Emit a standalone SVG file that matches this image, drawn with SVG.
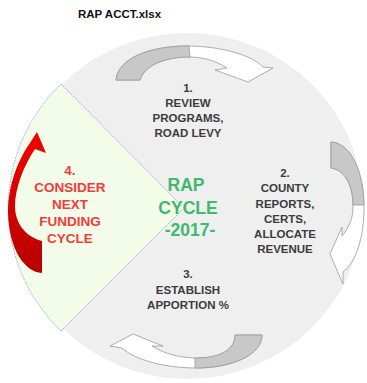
<svg xmlns="http://www.w3.org/2000/svg" width="367" height="383" viewBox="0 0 367 383">
<defs>
<linearGradient id="redg" x1="0" y1="0" x2="0" y2="1">
<stop offset="0" stop-color="#f20000"/>
<stop offset="1" stop-color="#b80000"/>
</linearGradient>
<style>
.lbl{font-family:"Liberation Sans",Arial,sans-serif;font-weight:bold;font-size:11.5px;fill:#3c3c3c;text-anchor:middle}
.red{font-family:"Liberation Sans",Arial,sans-serif;font-weight:bold;font-size:13.5px;fill:#f23b3b;text-anchor:middle}
.grn{font-family:"Liberation Sans",Arial,sans-serif;font-weight:bold;font-size:17.5px;fill:#3dba6c;text-anchor:middle}
.arrw{fill:#ffffff;stroke:#9a9a9a;stroke-width:0.8}
.arrg{fill:#c8c8c8;stroke:#9a9a9a;stroke-width:0.8}
</style>
</defs>
<rect width="367" height="383" fill="#ffffff"/>
<text x="78" y="18" style="font-family:'Liberation Sans',Arial,sans-serif;font-weight:bold;font-size:11.5px;fill:#111">RAP ACCT.xlsx</text>
<g id="cycle">
<ellipse cx="187" cy="206" rx="176" ry="173" fill="#efefef"/>
<path d="M184,208 L61,84 A176,173 0 0 0 61,331 Z" fill="#f3fbe9" stroke="#7fa6d6" stroke-width="0.9" stroke-dasharray="1.5,1.2"/>
</g>
<g id="connectors">
<g id="arrow1">
<path class="arrw" d="M116,80 C118,58 150,46 187,46 C220,46 252,55 263,67 L273,68 L248,82 L215,70 L227,68 C216,61 204,57 189,57 C165,57 145,65 140,80 Z"/>
<path class="arrg" d="M116,80 C118,58 150,46 189,46 L190,57 C165,57 145,65 140,80 Z"/>
</g>
<g id="arrow2">
<path class="arrw" d="M331,142 C352,143 364,175 364,207 C364,238 356,262 343,272 L343,284 L330,254 L342,227 L342,236 C349,228 353,218 353,207 C353,185 345,170 331,168 Z"/>
<path class="arrg" d="M331,142 C352,143 364,175 364,205 L353,205 C353,185 345,170 331,168 Z"/>
</g>
<g id="arrow3">
<path class="arrw" d="M262,335 C262,355 232,368 197,368 C165,368 135,360 122,348 L110,346 L133,334 L163,346 L152,346 C165,354 180,358 197,358 C220,358 235,350 235,335 Z"/>
<path class="arrg" d="M262,335 C262,355 232,368 195,368 L195,358 C220,358 235,350 235,335 Z"/>
</g>
<g id="arrow4">
<path fill="url(#redg)" d="M42,273 C25,272 9,250 8,213 C8,185 18,160 30,143 L37,132 L46,153 L35,149 C24,165 15,188 15,206 C15,222 24,236 42,241 Z"/>
</g>
</g>
<g id="node1">
<text class="lbl" x="188" y="92">1.</text>
<text class="lbl" x="188" y="107">REVIEW</text>
<text class="lbl" x="188" y="122">PROGRAMS,</text>
<text class="lbl" x="188" y="137">ROAD LEVY</text>
</g>
<g id="node2">
<text class="lbl" x="285" y="177">2.</text>
<text class="lbl" x="285" y="192">COUNTY</text>
<text class="lbl" x="285" y="207.5">REPORTS,</text>
<text class="lbl" x="285" y="222.5">CERTS,</text>
<text class="lbl" x="285" y="238">ALLOCATE</text>
<text class="lbl" x="285" y="252.5">REVENUE</text>
</g>
<g id="node3">
<text class="lbl" x="188" y="278">3.</text>
<text class="lbl" x="188" y="294">ESTABLISH</text>
<text class="lbl" x="188" y="309">APPORTION %</text>
</g>
<g id="node4">
<text class="red" x="70" y="175">4.</text>
<text class="red" x="70" y="192">CONSIDER</text>
<text class="red" x="70" y="208.5">NEXT</text>
<text class="red" x="70" y="225.5">FUNDING</text>
<text class="red" x="70" y="243">CYCLE</text>
</g>
<g id="center">
<text class="grn" x="186" y="191">RAP</text>
<text class="grn" x="188" y="214">CYCLE</text>
<text class="grn" x="190" y="236">-2017-</text>
</g>
</svg>
